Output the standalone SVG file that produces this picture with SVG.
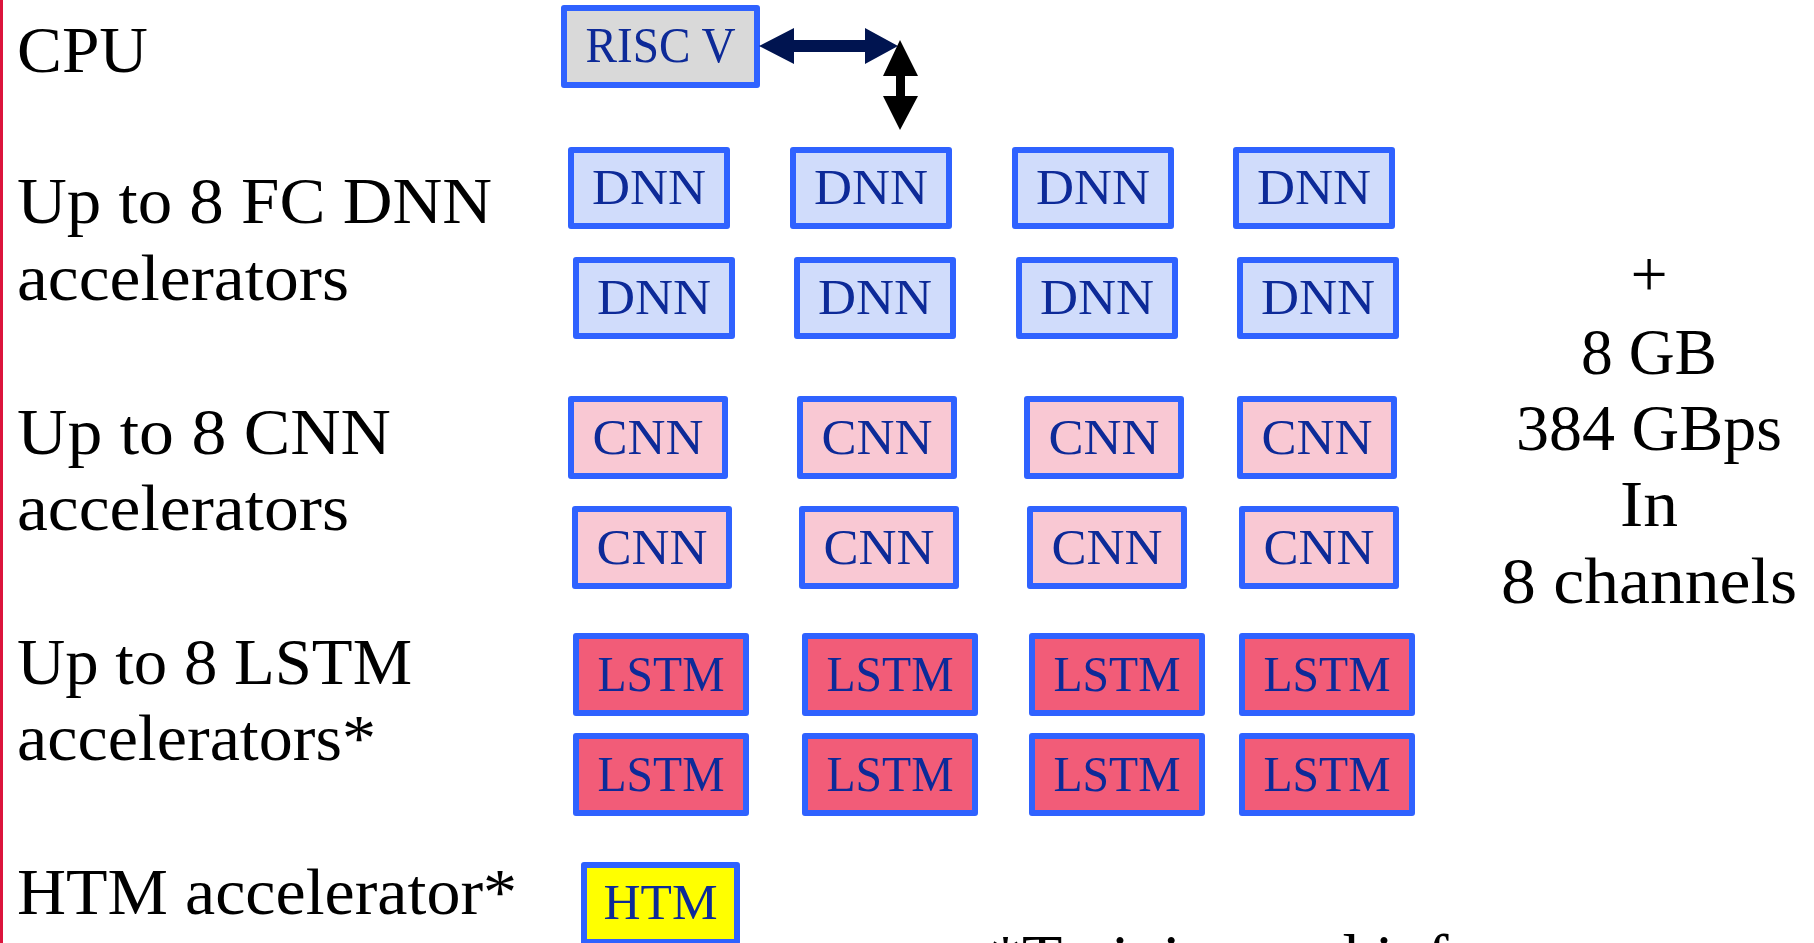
<svg xmlns="http://www.w3.org/2000/svg" width="1814" height="943" viewBox="0 0 1814 943">
<style>
.lbl{font-family:"Liberation Serif","Times New Roman",serif;font-size:66px;fill:#000}
.box rect{stroke:#2f62ff;stroke-width:6;stroke-linejoin:round}
.box text{font-family:"Liberation Serif","Times New Roman",serif;font-size:50px;fill:#0d2a98;text-anchor:middle}
.dnn rect{fill:#d0dcfb}
.cnn rect{fill:#f9c8d3}
.lstm rect{fill:#f25c78}
.cpu rect{fill:#d9d9d9}
.htm rect{fill:#ffff00}
.mem{font-family:"Liberation Serif","Times New Roman",serif;font-size:66px;fill:#000;text-anchor:middle}
</style>
<rect id="margin-line" x="0" y="0" width="3" height="943" fill="#dc143c"/>

<g id="labels">
<text class="lbl" x="17" y="72" textLength="131" lengthAdjust="spacingAndGlyphs">CPU</text>
<text class="lbl" x="17" y="223" textLength="475" lengthAdjust="spacingAndGlyphs">Up to 8 FC DNN</text>
<text class="lbl" x="17" y="300" textLength="332" lengthAdjust="spacingAndGlyphs">accelerators</text>
<text class="lbl" x="17" y="454" textLength="374" lengthAdjust="spacingAndGlyphs">Up to 8 CNN</text>
<text class="lbl" x="17" y="530" textLength="332" lengthAdjust="spacingAndGlyphs">accelerators</text>
<text class="lbl" x="17" y="684" textLength="395" lengthAdjust="spacingAndGlyphs">Up to 8 LSTM</text>
<text class="lbl" x="17" y="760" textLength="359" lengthAdjust="spacingAndGlyphs">accelerators*</text>
<text class="lbl" x="17" y="914" textLength="500" lengthAdjust="spacingAndGlyphs">HTM accelerator*</text>
</g>

<g id="memory">
<text class="mem" x="1649" y="296">+</text>
<text class="mem" x="1649" y="374" textLength="136" lengthAdjust="spacingAndGlyphs">8 GB</text>
<text class="mem" x="1649" y="450" textLength="266" lengthAdjust="spacingAndGlyphs">384 GBps</text>
<text class="mem" x="1649" y="526" textLength="58" lengthAdjust="spacingAndGlyphs">In</text>
<text class="mem" x="1649" y="603" textLength="296" lengthAdjust="spacingAndGlyphs">8 channels</text>
</g>

<text id="footnote" class="lbl" x="989" y="980">*Training and inference</text>

<g id="risc-v" class="box cpu"><rect x="564" y="8" width="193" height="77"/><text x="660.5" y="62" textLength="150" lengthAdjust="spacingAndGlyphs">RISC V</text></g>

<g id="dnn-1" class="box dnn"><rect x="571" y="150" width="156" height="76"/><text x="649" y="204" textLength="114" lengthAdjust="spacingAndGlyphs">DNN</text></g>
<g id="dnn-2" class="box dnn"><rect x="793" y="150" width="156" height="76"/><text x="871" y="204" textLength="114" lengthAdjust="spacingAndGlyphs">DNN</text></g>
<g id="dnn-3" class="box dnn"><rect x="1015" y="150" width="156" height="76"/><text x="1093" y="204" textLength="114" lengthAdjust="spacingAndGlyphs">DNN</text></g>
<g id="dnn-4" class="box dnn"><rect x="1236" y="150" width="156" height="76"/><text x="1314" y="204" textLength="114" lengthAdjust="spacingAndGlyphs">DNN</text></g>
<g id="dnn-5" class="box dnn"><rect x="576" y="260" width="156" height="76"/><text x="654" y="314" textLength="114" lengthAdjust="spacingAndGlyphs">DNN</text></g>
<g id="dnn-6" class="box dnn"><rect x="797" y="260" width="156" height="76"/><text x="875" y="314" textLength="114" lengthAdjust="spacingAndGlyphs">DNN</text></g>
<g id="dnn-7" class="box dnn"><rect x="1019" y="260" width="156" height="76"/><text x="1097" y="314" textLength="114" lengthAdjust="spacingAndGlyphs">DNN</text></g>
<g id="dnn-8" class="box dnn"><rect x="1240" y="260" width="156" height="76"/><text x="1318" y="314" textLength="114" lengthAdjust="spacingAndGlyphs">DNN</text></g>

<g id="cnn-1" class="box cnn"><rect x="571" y="399" width="154" height="77"/><text x="648" y="454" textLength="111" lengthAdjust="spacingAndGlyphs">CNN</text></g>
<g id="cnn-2" class="box cnn"><rect x="800" y="399" width="154" height="77"/><text x="877" y="454" textLength="111" lengthAdjust="spacingAndGlyphs">CNN</text></g>
<g id="cnn-3" class="box cnn"><rect x="1027" y="399" width="154" height="77"/><text x="1104" y="454" textLength="111" lengthAdjust="spacingAndGlyphs">CNN</text></g>
<g id="cnn-4" class="box cnn"><rect x="1240" y="399" width="154" height="77"/><text x="1317" y="454" textLength="111" lengthAdjust="spacingAndGlyphs">CNN</text></g>
<g id="cnn-5" class="box cnn"><rect x="575" y="509" width="154" height="77"/><text x="652" y="564" textLength="111" lengthAdjust="spacingAndGlyphs">CNN</text></g>
<g id="cnn-6" class="box cnn"><rect x="802" y="509" width="154" height="77"/><text x="879" y="564" textLength="111" lengthAdjust="spacingAndGlyphs">CNN</text></g>
<g id="cnn-7" class="box cnn"><rect x="1030" y="509" width="154" height="77"/><text x="1107" y="564" textLength="111" lengthAdjust="spacingAndGlyphs">CNN</text></g>
<g id="cnn-8" class="box cnn"><rect x="1242" y="509" width="154" height="77"/><text x="1319" y="564" textLength="111" lengthAdjust="spacingAndGlyphs">CNN</text></g>

<g id="lstm-1" class="box lstm"><rect x="576" y="636" width="170" height="77"/><text x="661" y="691" textLength="127" lengthAdjust="spacingAndGlyphs">LSTM</text></g>
<g id="lstm-2" class="box lstm"><rect x="805" y="636" width="170" height="77"/><text x="890" y="691" textLength="127" lengthAdjust="spacingAndGlyphs">LSTM</text></g>
<g id="lstm-3" class="box lstm"><rect x="1032" y="636" width="170" height="77"/><text x="1117" y="691" textLength="127" lengthAdjust="spacingAndGlyphs">LSTM</text></g>
<g id="lstm-4" class="box lstm"><rect x="1242" y="636" width="170" height="77"/><text x="1327" y="691" textLength="127" lengthAdjust="spacingAndGlyphs">LSTM</text></g>
<g id="lstm-5" class="box lstm"><rect x="576" y="736" width="170" height="77"/><text x="661" y="791" textLength="127" lengthAdjust="spacingAndGlyphs">LSTM</text></g>
<g id="lstm-6" class="box lstm"><rect x="805" y="736" width="170" height="77"/><text x="890" y="791" textLength="127" lengthAdjust="spacingAndGlyphs">LSTM</text></g>
<g id="lstm-7" class="box lstm"><rect x="1032" y="736" width="170" height="77"/><text x="1117" y="791" textLength="127" lengthAdjust="spacingAndGlyphs">LSTM</text></g>
<g id="lstm-8" class="box lstm"><rect x="1242" y="736" width="170" height="77"/><text x="1327" y="791" textLength="127" lengthAdjust="spacingAndGlyphs">LSTM</text></g>

<g id="htm" class="box htm"><rect x="584" y="865" width="153" height="77"/><text x="660.5" y="919" textLength="114" lengthAdjust="spacingAndGlyphs">HTM</text></g>

<g id="connectors">
<polygon fill="#001450" points="759,46 794,28 794,40 865,40 865,28 898,46 865,64 865,52 794,52 794,64"/>
<polygon fill="#000000" points="900,40 918,76 905,76 905,96 918,96 900,130 883,96 896,96 896,76 883,76"/>
</g>
</svg>
